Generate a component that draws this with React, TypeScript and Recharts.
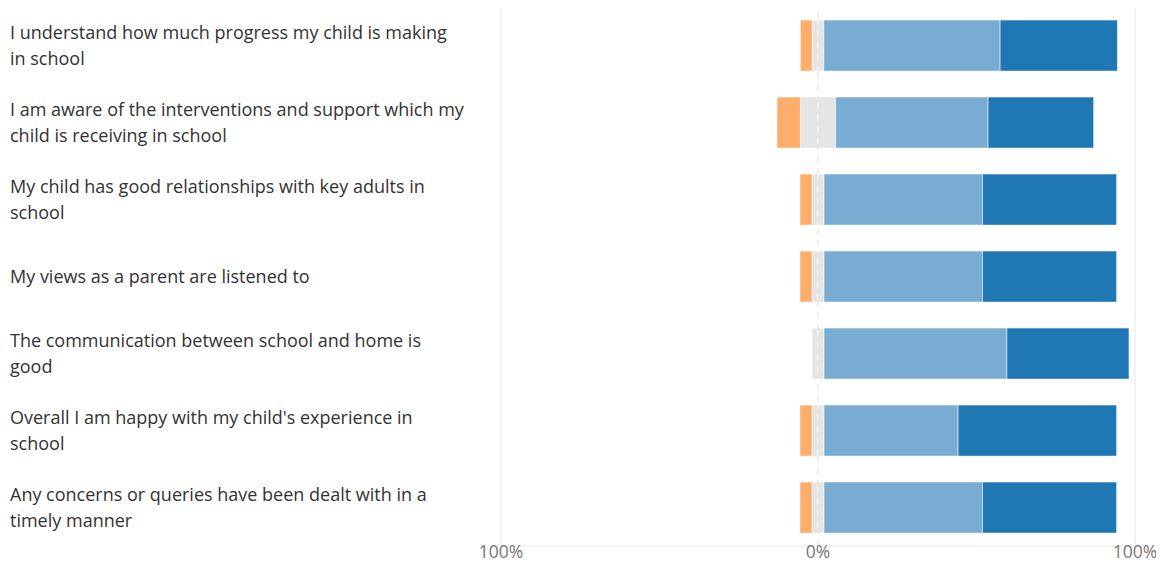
import {
  Bar,
  BarChart,
  ReferenceLine,
  XAxis,
  YAxis,
} from "recharts";

const statements = [
  "I understand how much progress my child is making in school",
  "I am aware of the interventions and support which my child is receiving in school",
  "My child has good relationships with key adults in school",
  "My views as a parent are listened to",
  "The communication between school and home is good",
  "Overall I am happy with my child's experience in school",
  "Any concerns or queries have been dealt with in a timely manner",
];

// percentages
const disagree = [3.7, 7.4, 3.8, 3.8, 0, 3.8, 3.8];
const neutral = [3.7, 11.1, 3.8, 3.8, 3.8, 3.8, 3.8];
const agree = [55.6, 48.1, 50, 50, 57.7, 42.3, 50];
const stronglyAgree = [37, 33.3, 42.3, 42.3, 38.5, 50, 42.3];

const xTicks = [-100, 0, 100];

const FONT = "'Open Sans', sans-serif";
const LABEL_SIZE = 18;
const LABEL_WIDTH = 455;

const data = statements.map((s, i) => ({
  statement: s,
  neutralNeg: -neutral[i] / 2,
  disagree: -disagree[i],
  neutralPos: neutral[i] / 2,
  agree: agree[i],
  stronglyAgree: stronglyAgree[i],
}));

let ctx: CanvasRenderingContext2D | null = null;
function wrap(text: string): string[] {
  if (!ctx) ctx = document.createElement("canvas").getContext("2d");
  ctx!.font = `${LABEL_SIZE}px ${FONT}`;
  const lines: string[] = [];
  let cur = "";
  for (const w of text.split(" ")) {
    const next = cur ? cur + " " + w : w;
    if (cur && ctx!.measureText(next).width > LABEL_WIDTH) {
      lines.push(cur);
      cur = w;
    } else cur = next;
  }
  if (cur) lines.push(cur);
  return lines;
}

function LabelTick(props: any) {
  const { y, payload } = props;
  const lines = wrap(payload.value);
  const start = y - ((lines.length - 1) * 26) / 2;
  return (
    <text fill="#333" fontSize={LABEL_SIZE} fontFamily={FONT}>
      {lines.map((l, i) => (
        <tspan key={i} x={2} y={start + i * 26} dy="0.355em">
          {l}
        </tspan>
      ))}
    </text>
  );
}

function App() {
  return (
    <div style={{ marginTop: -2, fontFamily: FONT }}>
      <BarChart
        width={1150}
        height={559}
        data={data}
        layout="vertical"
        stackOffset="sign"
        barCategoryGap="17%"
        margin={{ top: 1, right: 23, left: 0, bottom: 0 }}
      >
        <ReferenceLine x={-100} stroke="#e6e6e6" />
        <ReferenceLine x={100} stroke="#e6e6e6" />
        <ReferenceLine x={0} stroke="#dedede" strokeDasharray="6 6" />
        <XAxis
          type="number"
          domain={[-100, 100]}
          ticks={xTicks}
          tickFormatter={(v: number) => Math.abs(v) + "%"}
          axisLine={{ stroke: "#e6e6e6" }}
          tickLine={false}
          tickSize={0}
          tickMargin={0}
          height={19}
          tick={{ fill: "#777", fontSize: 17.5 }}
        />
        <YAxis
          type="category"
          dataKey="statement"
          width={493}
          axisLine={false}
          tickLine={false}
          tick={<LabelTick />}
          interval={0}
        />
        <Bar dataKey="neutralNeg" stackId="a" fill="#e5e5e5" stroke="#fff" strokeOpacity={0.5} isAnimationActive={false} />
        <Bar dataKey="disagree" stackId="a" fill="#fdae6b" stroke="#fff" strokeOpacity={0.5} isAnimationActive={false} />
        <Bar dataKey="neutralPos" stackId="a" fill="#e5e5e5" stroke="#fff" strokeOpacity={0.5} isAnimationActive={false} />
        <Bar dataKey="agree" stackId="a" fill="#79acd3" stroke="#fff" strokeOpacity={0.5} isAnimationActive={false} />
        <Bar dataKey="stronglyAgree" stackId="a" fill="#1f77b4" stroke="#fff" strokeOpacity={0.5} isAnimationActive={false} />
      </BarChart>
    </div>
  );
}

export default App;
